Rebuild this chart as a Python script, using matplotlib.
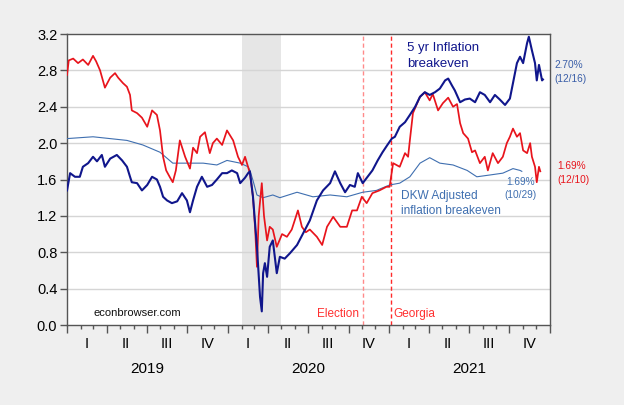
import matplotlib.pyplot as plt
import matplotlib.dates as mdates
import matplotlib.transforms as mtransforms
import pandas as pd

# red series
red_dates = ["2019-01-01", "2019-01-05", "2019-01-15", "2019-01-26", "2019-02-06", "2019-02-18",
             "2019-03-01", "2019-03-08", "2019-03-17", "2019-03-28", "2019-04-09", "2019-04-20",
             "2019-04-27", "2019-05-08", "2019-05-17", "2019-05-24", "2019-05-28", "2019-06-09",
             "2019-06-20", "2019-07-02", "2019-07-13", "2019-07-24", "2019-07-31", "2019-08-07",
             "2019-08-14", "2019-08-23", "2019-08-29", "2019-09-05", "2019-09-14", "2019-09-26",
             "2019-10-07", "2019-10-14", "2019-10-23", "2019-10-30", "2019-11-10", "2019-11-21",
             "2019-11-28", "2019-12-07", "2019-12-19", "2019-12-30", "2020-01-13", "2020-01-24",
             "2020-02-02", "2020-02-09", "2020-02-20", "2020-02-27", "2020-03-03", "2020-03-07",
             "2020-03-11", "2020-03-18", "2020-03-23", "2020-03-30", "2020-04-05", "2020-04-12",
             "2020-04-21", "2020-05-03", "2020-05-14", "2020-05-25", "2020-06-08", "2020-06-17",
             "2020-06-26", "2020-07-05", "2020-07-21", "2020-08-02", "2020-08-13", "2020-08-27",
             "2020-09-12", "2020-09-27", "2020-10-09", "2020-10-20", "2020-10-31", "2020-11-11",
             "2020-11-24", "2020-12-10", "2020-12-26", "2021-01-02", "2021-01-10", "2021-01-25",
             "2021-02-06", "2021-02-13", "2021-02-17", "2021-02-24", "2021-03-12", "2021-03-23",
             "2021-04-03", "2021-04-10", "2021-04-22", "2021-05-03", "2021-05-15", "2021-05-26",
             "2021-06-04", "2021-06-11", "2021-06-18", "2021-06-29", "2021-07-08", "2021-07-15",
             "2021-07-26", "2021-08-06", "2021-08-13", "2021-08-24", "2021-09-05", "2021-09-16",
             "2021-09-25", "2021-10-02", "2021-10-09", "2021-10-18", "2021-10-25", "2021-11-01",
             "2021-11-10", "2021-11-17", "2021-11-21", "2021-11-28", "2021-12-02", "2021-12-07",
             "2021-12-10"]
red_vals = [2.75, 2.91, 2.93, 2.88, 2.92, 2.86,
            2.96, 2.90, 2.80, 2.61, 2.72, 2.77,
            2.72, 2.66, 2.62, 2.53, 2.36, 2.33,
            2.28, 2.18, 2.36, 2.31, 2.14, 1.85,
            1.70, 1.62, 1.57, 1.70, 2.03, 1.85,
            1.72, 1.95, 1.89, 2.07, 2.12, 1.89,
            2.00, 2.05, 1.98, 2.14, 2.03, 1.85,
            1.76, 1.85, 1.67, 1.41, 1.05, 0.64,
            1.20, 1.56, 1.20, 0.93, 1.08, 1.05,
            0.86, 1.00, 0.97, 1.05, 1.26, 1.08,
            1.02, 1.05, 0.97, 0.88, 1.08, 1.19,
            1.08, 1.08, 1.26, 1.26, 1.41, 1.34,
            1.45, 1.48, 1.52, 1.52, 1.78, 1.74,
            1.89, 1.85, 2.03, 2.33, 2.51, 2.56,
            2.47, 2.54, 2.36, 2.44, 2.50, 2.40,
            2.43, 2.22, 2.11, 2.05, 1.90, 1.92,
            1.78, 1.85, 1.70, 1.89, 1.78, 1.85,
            2.00, 2.07, 2.16, 2.07, 2.11, 1.92,
            1.89, 2.00, 1.85, 1.74, 1.57, 1.74,
            1.69]

# 5 yr inflation breakeven
be5_dates = ["2019-01-01", "2019-01-08", "2019-01-19", "2019-01-30", "2019-02-06", "2019-02-18",
             "2019-03-01", "2019-03-10", "2019-03-21", "2019-03-28", "2019-04-09", "2019-04-24",
             "2019-05-06", "2019-05-17", "2019-05-24", "2019-05-28", "2019-06-09", "2019-06-20",
             "2019-07-02", "2019-07-13", "2019-07-24", "2019-07-31", "2019-08-07", "2019-08-16",
             "2019-08-27", "2019-09-08", "2019-09-19", "2019-09-30", "2019-10-07", "2019-10-14",
             "2019-10-23", "2019-11-03", "2019-11-15", "2019-11-26", "2019-12-07", "2019-12-19",
             "2019-12-30", "2020-01-10", "2020-01-22", "2020-01-29", "2020-02-09", "2020-02-16",
             "2020-02-20", "2020-02-27", "2020-03-07", "2020-03-14", "2020-03-18", "2020-03-21",
             "2020-03-25", "2020-03-30", "2020-04-05", "2020-04-12", "2020-04-21", "2020-04-28",
             "2020-05-09", "2020-05-21", "2020-06-06", "2020-06-20", "2020-07-05", "2020-07-21",
             "2020-08-04", "2020-08-20", "2020-08-31", "2020-09-12", "2020-09-23", "2020-10-04",
             "2020-10-15", "2020-10-22", "2020-11-02", "2020-11-13", "2020-11-24", "2020-12-06",
             "2020-12-17", "2020-12-28", "2021-01-07", "2021-01-14", "2021-01-25", "2021-02-06",
             "2021-02-17", "2021-03-01", "2021-03-12", "2021-03-23", "2021-04-03", "2021-04-15",
             "2021-04-26", "2021-05-08", "2021-05-15", "2021-05-24", "2021-05-30", "2021-06-11",
             "2021-06-22", "2021-07-03", "2021-07-15", "2021-07-26", "2021-08-06", "2021-08-18",
             "2021-08-29", "2021-09-09", "2021-09-21", "2021-10-02", "2021-10-09", "2021-10-18",
             "2021-10-25", "2021-11-01", "2021-11-10", "2021-11-14", "2021-11-21", "2021-11-28",
             "2021-12-02", "2021-12-07", "2021-12-14", "2021-12-16"]
be5_vals = [1.48, 1.67, 1.63, 1.63, 1.74, 1.78,
            1.85, 1.80, 1.87, 1.74, 1.83, 1.87,
            1.81, 1.74, 1.63, 1.57, 1.56, 1.48,
            1.54, 1.63, 1.60, 1.52, 1.41, 1.37,
            1.34, 1.36, 1.45, 1.37, 1.24, 1.37,
            1.52, 1.63, 1.52, 1.54, 1.60, 1.67,
            1.67, 1.70, 1.67, 1.56, 1.62, 1.67,
            1.69, 1.41, 0.86, 0.31, 0.15, 0.57,
            0.68, 0.53, 0.86, 0.93, 0.57, 0.75,
            0.73, 0.79, 0.88, 1.01, 1.15, 1.37,
            1.48, 1.56, 1.69, 1.56, 1.46, 1.54,
            1.52, 1.67, 1.56, 1.63, 1.70, 1.81,
            1.90, 1.98, 2.05, 2.07, 2.18, 2.23,
            2.31, 2.40, 2.51, 2.56, 2.53, 2.56,
            2.60, 2.69, 2.71, 2.63, 2.58, 2.45,
            2.48, 2.49, 2.45, 2.56, 2.53, 2.45,
            2.53, 2.48, 2.42, 2.49, 2.66, 2.88,
            2.95, 2.88, 3.10, 3.17, 3.02, 2.88,
            2.69, 2.86, 2.69, 2.70]

# DKW adjusted breakeven
dkw_dates = ["2019-01-01", "2019-03-01", "2019-05-17", "2019-06-22", "2019-07-31", "2019-08-29",
             "2019-09-30", "2019-11-06", "2019-12-07", "2019-12-30", "2020-01-29", "2020-02-16",
             "2020-02-20", "2020-02-27", "2020-03-07", "2020-03-21", "2020-04-12", "2020-04-28",
             "2020-06-06", "2020-07-12", "2020-08-20", "2020-09-27", "2020-11-02", "2020-12-03",
             "2021-01-02", "2021-01-25", "2021-02-17", "2021-03-12", "2021-04-03", "2021-04-26",
             "2021-05-26", "2021-06-27", "2021-07-19", "2021-08-18", "2021-09-16", "2021-10-09",
             "2021-10-25", "2021-10-29"]
dkw_vals = [2.05, 2.07, 2.03, 1.98, 1.90, 1.78,
            1.78, 1.78, 1.76, 1.81, 1.78, 1.74,
            1.70, 1.59, 1.43, 1.40, 1.43, 1.40,
            1.46, 1.41, 1.43, 1.41, 1.46, 1.48,
            1.54, 1.56, 1.63, 1.78, 1.84, 1.78,
            1.76, 1.70, 1.63, 1.65, 1.67, 1.72,
            1.70, 1.69]

red_dates = pd.to_datetime(red_dates)
be5_dates = pd.to_datetime(be5_dates)
dkw_dates = pd.to_datetime(dkw_dates)

plt.rcParams['font.family'] = ['Liberation Sans', 'DejaVu Sans']
fig = plt.figure(figsize=(6.24, 4.05), dpi=100, facecolor="#efefef")
ax = fig.add_axes([0.1074, 0.1975, 0.774, 0.7185])

# recession shading
ax.axvspan(pd.Timestamp("2020-02-01"), pd.Timestamp("2020-04-30"), color="#e6e6e6", lw=0, zorder=0)

for v in [0.4, 0.8, 1.2, 1.6, 2.0, 2.4, 2.8]:
    ax.axhline(v, color="#d5d5d5", lw=1, zorder=1)

ax.plot(dkw_dates, dkw_vals, color="#3f6fb0", lw=0.8, zorder=3)
ax.plot(red_dates, red_vals, color="#e8141c", lw=1.25, zorder=4)
ax.plot(be5_dates, be5_vals, color="#10168c", lw=1.5, zorder=5)

ax.axvline(pd.Timestamp("2020-11-03"), color="#ff8a8a", lw=1, ls=(0, (3, 2)), zorder=2)
ax.axvline(pd.Timestamp("2021-01-05"), color="#ff2a2a", lw=1, ls=(0, (3, 2)), zorder=2)

ax.set_xlim(pd.Timestamp("2019-01-01"), pd.Timestamp("2022-01-01"))
ax.set_ylim(0, 3.2)
ax.set_yticks([0.0, 0.4, 0.8, 1.2, 1.6, 2.0, 2.4, 2.8, 3.2])
ax.set_yticklabels(["0.0", "0.4", "0.8", "1.2", "1.6", "2.0", "2.4", "2.8", "3.2"])

ax.xaxis.set_major_locator(mdates.MonthLocator(bymonth=[1, 4, 7, 10]))
ax.xaxis.set_minor_locator(mdates.MonthLocator())
ax.xaxis.set_major_formatter(plt.NullFormatter())
ax.tick_params(axis="x", which="major", length=6, width=1, color="#555555")
ax.tick_params(axis="x", which="minor", length=3, width=1, color="#555555")
ax.tick_params(axis="y", length=5, width=1, color="#555555", labelsize=10.5, pad=2)
for s in ax.spines.values():
    s.set_color("#555555")
    s.set_linewidth(1)

trans = mtransforms.blended_transform_factory(ax.transData, ax.transAxes)
quarters = ["I", "II", "III", "IV"]
for yr in [2019, 2020, 2021]:
    for qi, q in enumerate(quarters):
        mid = pd.Timestamp(f"{yr}-{3 * qi + 2:02d}-15")
        ax.text(mid, -0.065, q, transform=trans, ha="center", va="center", fontsize=10.5)
    ax.text(pd.Timestamp(f"{yr}-07-01"), -0.151, str(yr), transform=trans,
            ha="center", va="center", fontsize=11)

ax.text(pd.Timestamp("2021-02-10"), 2.96, "5 yr Inflation\nbreakeven", color="#10168c",
        fontsize=9.5, ha="left", va="center", linespacing=1.4)
ax.text(pd.Timestamp("2021-01-28"), 1.34, "DKW Adjusted\ninflation breakeven", color="#3f6fb0",
        fontsize=8.6, ha="left", va="center", linespacing=1.3)
ax.text(pd.Timestamp("2022-01-10"), 2.78, "2.70%\n(12/16)", color="#3a5ea8",
        fontsize=7.3, ha="left", va="center", linespacing=1.45, clip_on=False)
ax.text(pd.Timestamp("2022-01-17"), 1.67, "1.69%\n(12/10)", color="#e8141c",
        fontsize=7.3, ha="left", va="center", linespacing=1.45, clip_on=False)
ax.text(pd.Timestamp("2021-10-27"), 1.50, "1.69%\n(10/29)", color="#3f6fb0",
        fontsize=7.3, ha="center", va="center", linespacing=1.45)
ax.text(pd.Timestamp("2019-03-01"), 0.13, "econbrowser.com", color="#111111",
        fontsize=8, ha="left", va="center")
ax.text(pd.Timestamp("2020-10-24"), 0.12, "Election", color="#ff3030",
        fontsize=8.5, ha="right", va="center")
ax.text(pd.Timestamp("2021-01-11"), 0.12, "Georgia", color="#ff3030",
        fontsize=8.5, ha="left", va="center")

fig.savefig("out.png", dpi=100, facecolor=fig.get_facecolor())
